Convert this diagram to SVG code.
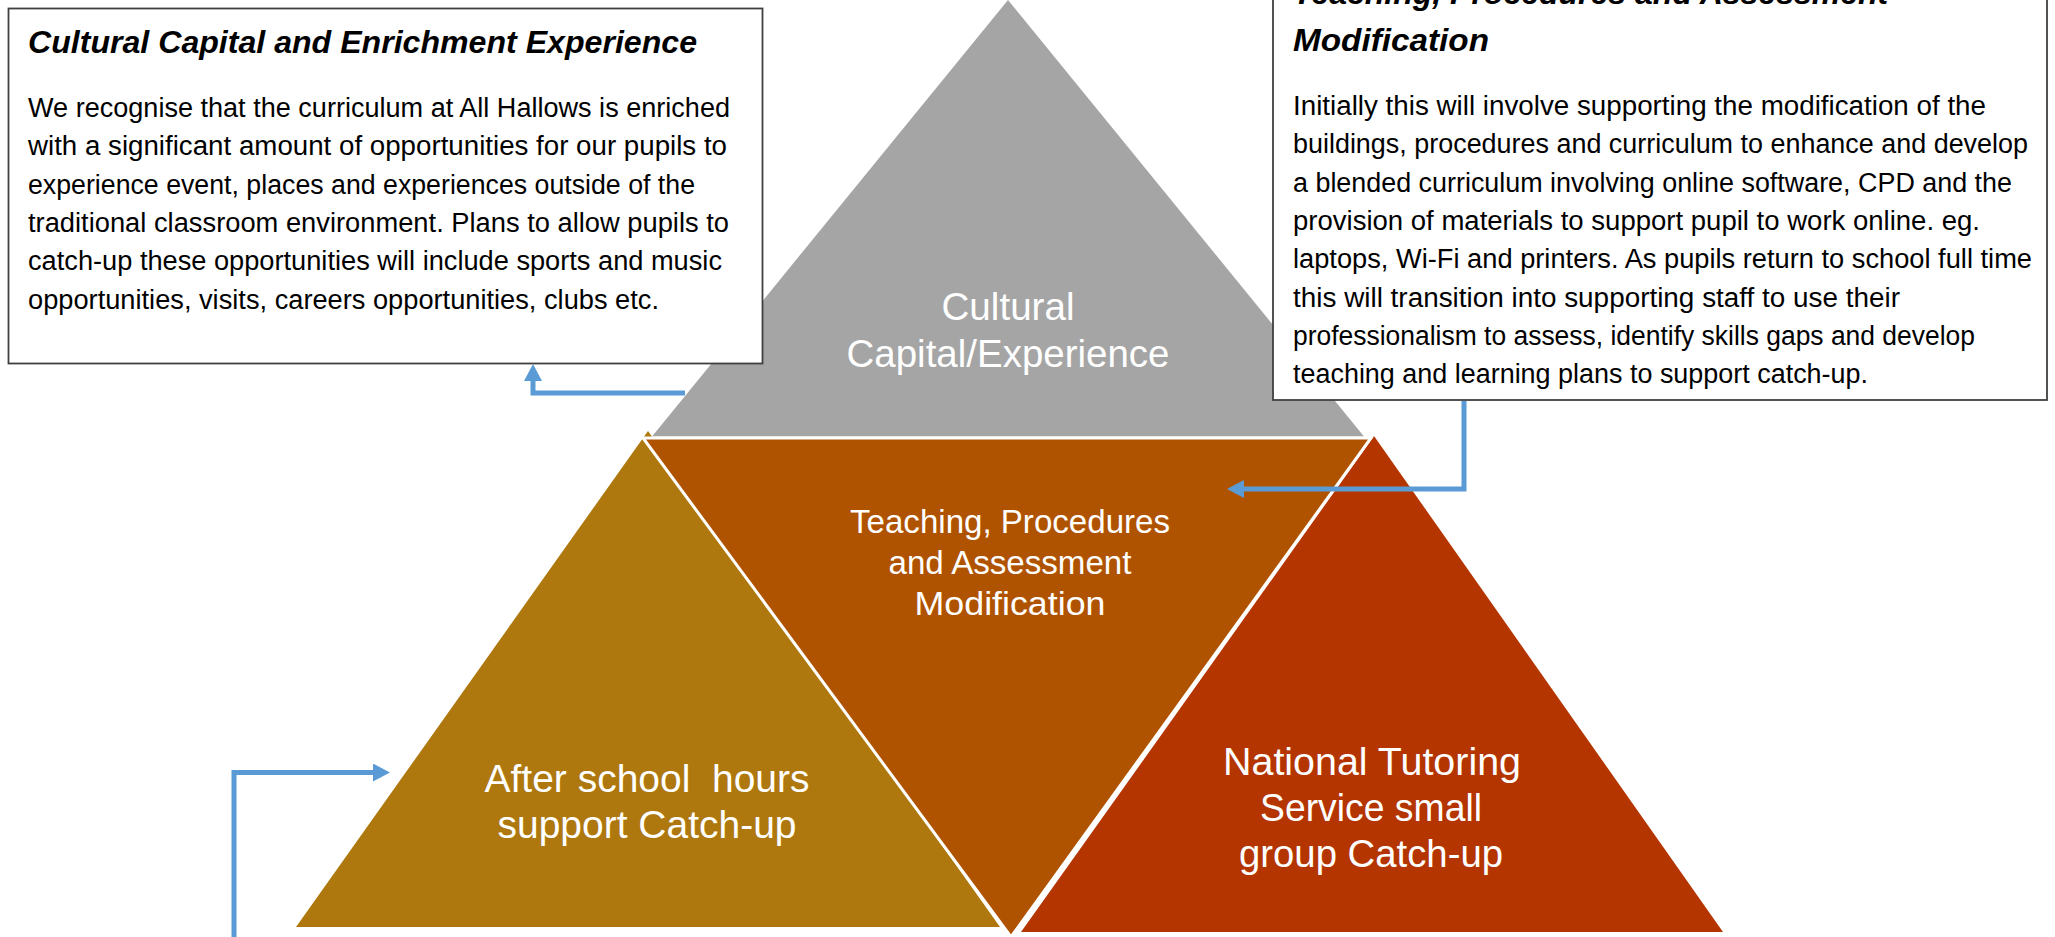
<svg xmlns="http://www.w3.org/2000/svg" width="2055" height="937" viewBox="0 0 2055 937">
<defs>
<style>
.txt{font-family:'Liberation Sans',Arial,sans-serif}
.body{font-size:27px;fill:#000}
.ttl{font-size:32px;font-weight:bold;font-style:italic;fill:#000}
.lbl{fill:#fff;text-anchor:middle}
.box{fill:#fff;stroke:#404040;stroke-width:1.8}
.conn{fill:none;stroke:#5B9BD5;stroke-width:5;stroke-linejoin:miter}
</style>
<marker id="ah" viewBox="0 0 17 18" refX="5" refY="9" markerWidth="17" markerHeight="18" markerUnits="userSpaceOnUse" orient="auto"><path d="M0,0L17,9L0,18z" fill="#5B9BD5"/></marker>
</defs>
<rect width="2055" height="937" fill="#fff"/>

<g id="node-cultural-capital">
<polygon points="1008,0 652,436.5 1364,436.5" fill="#A5A5A5"/>
<text class="txt lbl" font-size="38.6" x="1008" y="320" textLength="133" lengthAdjust="spacingAndGlyphs">Cultural</text>
<text class="txt lbl" font-size="38.6" x="1008" y="367" textLength="323" lengthAdjust="spacingAndGlyphs">Capital/Experience</text>
</g>

<g id="node-after-school">
<polygon points="648,431 296,927 1000,927" fill="#AE780E"/>
<text class="txt lbl" font-size="39" x="647" y="792" textLength="325" lengthAdjust="spacingAndGlyphs" xml:space="preserve">After school  hours</text>
<text class="txt lbl" font-size="39" x="647" y="838" textLength="299" lengthAdjust="spacingAndGlyphs">support Catch-up</text>
</g>

<g id="node-national-tutoring">
<polygon points="1374,436 1021,932 1723,932" fill="#B43500"/>
<text class="txt lbl" font-size="38.6" x="1372" y="775" textLength="298" lengthAdjust="spacingAndGlyphs">National Tutoring</text>
<text class="txt lbl" font-size="38.6" x="1371" y="821" textLength="222" lengthAdjust="spacingAndGlyphs">Service small</text>
<text class="txt lbl" font-size="38.6" x="1371" y="867" textLength="264" lengthAdjust="spacingAndGlyphs">group Catch-up</text>
</g>

<g id="node-teaching">
<polygon points="643,438 1371,438 1011,937" fill="#B05300" stroke="#fff" stroke-width="3"/>
<text class="txt lbl" font-size="33" x="1010" y="533" textLength="320" lengthAdjust="spacingAndGlyphs">Teaching, Procedures</text>
<text class="txt lbl" font-size="33" x="1010" y="574" textLength="243" lengthAdjust="spacingAndGlyphs">and Assessment</text>
<text class="txt lbl" font-size="33" x="1010" y="615" textLength="191" lengthAdjust="spacingAndGlyphs">Modification</text>
</g>

<g id="box-cultural-capital">
<rect class="box" x="8.5" y="8.5" width="754" height="355"/>
<text class="txt ttl" x="28" y="53" textLength="669" lengthAdjust="spacingAndGlyphs">Cultural Capital and Enrichment Experience</text>
<text class="txt body" x="28" y="117" textLength="702" lengthAdjust="spacingAndGlyphs">We recognise that the curriculum at All Hallows is enriched</text>
<text class="txt body" x="28" y="155.3" textLength="699" lengthAdjust="spacingAndGlyphs">with a significant amount of opportunities for our pupils to</text>
<text class="txt body" x="28" y="193.6" textLength="667" lengthAdjust="spacingAndGlyphs">experience event, places and experiences outside of the</text>
<text class="txt body" x="28" y="231.9" textLength="701" lengthAdjust="spacingAndGlyphs">traditional classroom environment. Plans to allow pupils to</text>
<text class="txt body" x="28" y="270.2" textLength="694" lengthAdjust="spacingAndGlyphs">catch-up these opportunities will include sports and music</text>
<text class="txt body" x="28" y="308.5" textLength="631" lengthAdjust="spacingAndGlyphs">opportunities, visits, careers opportunities, clubs etc.</text>
</g>

<g id="box-teaching">
<rect class="box" x="1273" y="-10" width="774" height="410"/>
<text class="txt ttl" x="1293" y="4">Teaching, Procedures and Assessment</text>
<text class="txt ttl" x="1293" y="51" textLength="196" lengthAdjust="spacingAndGlyphs">Modification</text>
<text class="txt body" x="1293" y="115" textLength="693" lengthAdjust="spacingAndGlyphs">Initially this will involve supporting the modification of the</text>
<text class="txt body" x="1293" y="153.3" textLength="735" lengthAdjust="spacingAndGlyphs">buildings, procedures and curriculum to enhance and develop</text>
<text class="txt body" x="1293" y="191.6" textLength="719" lengthAdjust="spacingAndGlyphs">a blended curriculum involving online software, CPD and the</text>
<text class="txt body" x="1293" y="229.9" textLength="687" lengthAdjust="spacingAndGlyphs">provision of materials to support pupil to work online. eg.</text>
<text class="txt body" x="1293" y="268.2" textLength="739" lengthAdjust="spacingAndGlyphs">laptops, Wi-Fi and printers. As pupils return to school full time</text>
<text class="txt body" x="1293" y="306.5" textLength="607" lengthAdjust="spacingAndGlyphs">this will transition into supporting staff to use their</text>
<text class="txt body" x="1293" y="344.8" textLength="682" lengthAdjust="spacingAndGlyphs">professionalism to assess, identify skills gaps and develop</text>
<text class="txt body" x="1293" y="383.1" textLength="575" lengthAdjust="spacingAndGlyphs">teaching and learning plans to support catch-up.</text>
</g>

<g id="connectors">
<path class="conn" d="M685,393 H533 V376" marker-end="url(#ah)"/>
<path class="conn" d="M1464,401 V489 H1239" marker-end="url(#ah)"/>
<path class="conn" d="M234,937 V772.5 H378" marker-end="url(#ah)"/>
</g>
</svg>
